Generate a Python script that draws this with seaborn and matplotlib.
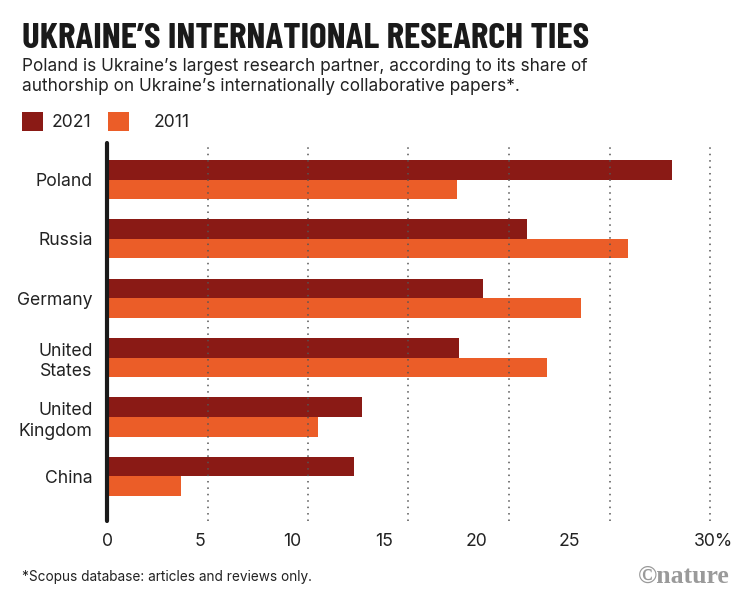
import numpy as np
import pandas as pd
import matplotlib.pyplot as plt
from matplotlib.patches import Rectangle
from matplotlib import font_manager as fm
import seaborn as sns

# data (share of authorship, %)
countries = ["Poland", "Russia", "Germany", "United\nStates", "United\nKingdom", "China"]
share_2021 = [28.1, 20.9, 18.7, 17.5, 12.7, 12.3]
share_2011 = [17.4, 25.9, 23.6, 21.9, 10.5, 3.7]
years = ["2021", "2011"]
colors = ["#8a1a15", "#eb5d28"]

grid_pos = [5, 10, 15, 20, 25, 30]
x_tick_labels = ["0", "5", "10", "15", "20", "25", "30%"]
x_tick_pos = [0, 4.6, 9.2, 13.8, 18.4, 23.0, 30.15]

df = pd.DataFrame({
    "country": countries * 2,
    "share": share_2021 + share_2011,
    "year": [years[0]] * len(countries) + [years[1]] * len(countries),
})

sns.set_style("white")
plt.rcParams["font.family"] = ["Inter", "DejaVu Sans"]


def font_file(*names):
    # first installed font file among the given file names
    files = {f.fname.rsplit("/", 1)[-1]: f.fname for f in fm.fontManager.ttflist}
    for n in names:
        if n in files:
            return fm.FontProperties(fname=files[n])
    return fm.FontProperties(family="DejaVu Sans", weight="bold")


W, H = 751, 599
fig = plt.figure(figsize=(W / 100, H / 100), dpi=100)

# axes in pixel terms: x=0 at 107px, 20.1 px per unit
px_unit = 20.1
x0, x1 = -0.2, 30.4
left = 107 + x0 * px_unit
right = 107 + x1 * px_unit
ax = fig.add_axes([left / W, 1 - 521 / H, (right - left) / W, (521 - 143) / H])

sns.barplot(data=df, x="share", y="country", hue="year", hue_order=years,
            palette=colors, orient="h", width=0.66, saturation=1,
            legend=False, ax=ax, linewidth=0, zorder=2)

ax.set_xlim(x0, x1)
ax.set_ylim(5.753, -0.615)

# dotted gridlines + solid zero line
for g in grid_pos:
    ax.axvline(g, color="#555555", lw=1.1, ls=(0, (1, 3.2)), zorder=3, clip_on=False)
ax.axvline(0, color="#1a1a1a", lw=3, zorder=4, clip_on=False)

sns.despine(ax=ax, left=True, bottom=True)
ax.set_xticks(x_tick_pos, x_tick_labels)
ax.tick_params(axis="both", length=0, labelsize=12.7, labelcolor="#222222")
ax.tick_params(axis="x", pad=9)
ax.tick_params(axis="y", pad=7.5)
ax.set_xlabel("")
ax.set_ylabel("")
for lab in ax.get_yticklabels():
    lab.set_linespacing(1.3)

# header
title_fp = font_file("BarlowCondensed-Bold.ttf", "BarlowCondensed-ExtraBold.ttf",
                     "AsapCondensed-Bold.ttf")
title = fig.text(22 / W, 1 - 47.7 / H, "UKRAINE’S INTERNATIONAL RESEARCH TIES",
                 fontproperties=title_fp, fontsize=25, color="#1a1a1a", va="baseline")
# fit the title to the reference width (~568 px), without letting it get too tall
renderer = fig.canvas.get_renderer()
tw = title.get_window_extent(renderer).width
title.set_fontsize(min(25 * 568 / tw, 27.5))

fig.text(22 / W, 1 - 71 / H,
         "Poland is Ukraine’s largest research partner, according to its share of",
         fontsize=12.4, color="#222222", va="baseline")
fig.text(22 / W, 1 - 91 / H,
         "authorship on Ukraine’s internationally collaborative papers*.",
         fontsize=12.4, color="#222222", va="baseline")

# legend
for (sx, tx), yr, c in zip([(22, 52), (108, 154)], years, colors):
    fig.add_artist(Rectangle((sx / W, 1 - 130.5 / H), 21 / W, 19 / H,
                             transform=fig.transFigure, color=c, lw=0))
    fig.text(tx / W, 1 - 126.7 / H, yr, fontsize=12.6, color="#222222", va="baseline")

# footer
fig.text(22 / W, 1 - 581 / H, "*Scopus database: articles and reviews only.",
         fontsize=9.8, color="#222222", va="baseline")
fig.text(730 / W, 1 - 583 / H, "©nature", family=["Liberation Serif", "DejaVu Serif"],
         fontweight="bold", fontsize=18.5, color="#9a9a9a", ha="right", va="baseline")

fig.savefig("out.png", dpi=100)
